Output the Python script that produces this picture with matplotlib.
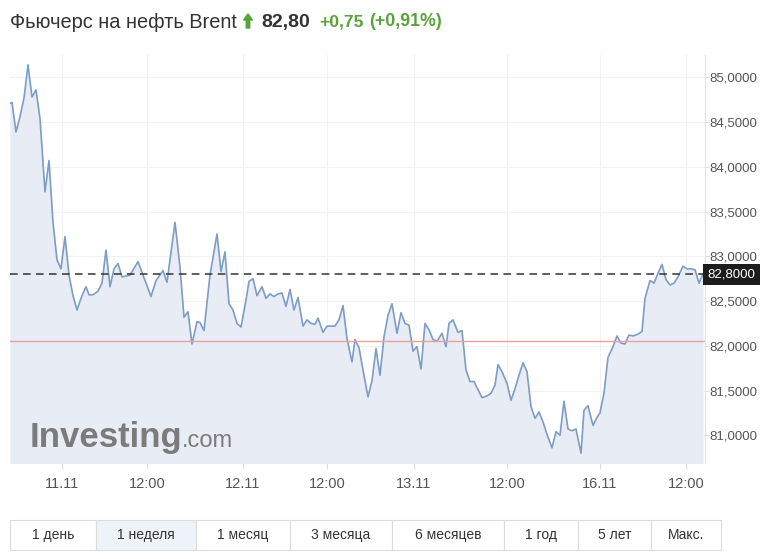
import matplotlib
matplotlib.use("Agg")
import matplotlib.pyplot as plt
from matplotlib.patches import Rectangle, FancyArrow

plt.rcParams['font.family'] = ['Liberation Sans', 'DejaVu Sans']

# Brent futures, one week (x - position along the session timeline)
t = [10, 12, 16, 20, 24, 28, 32, 36, 40, 45, 49, 53, 57, 61, 65, 69, 73, 77, 82, 86,
     89, 93, 98, 102, 106, 110, 114, 118, 122, 130, 138, 143, 151, 156, 163, 167, 175, 180, 184, 188,
     192, 197, 200, 204, 210, 217, 221, 225, 229, 233, 237, 241, 246, 249, 253, 257, 262, 266, 270, 274,
     278, 282, 286, 290, 294, 298, 303, 307, 311, 315, 318, 323, 327, 331, 335, 339, 343, 347, 352, 355,
     359, 363, 368, 372, 376, 380, 384, 388, 392, 397, 401, 405, 409, 413, 417, 421, 425, 429, 433, 437,
     442, 446, 449, 453, 458, 462, 466, 470, 474, 478, 482, 487, 491, 495, 498, 502, 507, 511, 515, 519,
     523, 527, 531, 535, 539, 543, 547, 552, 556, 560, 564, 568, 572, 576, 581, 584, 588, 593, 597, 600,
     604, 608, 613, 617, 621, 625, 629, 633, 638, 642, 645, 650, 654, 658, 662, 666, 670, 674, 678, 683,
     687, 691, 695, 699, 703]
price = [84.71, 84.72, 84.39, 84.56, 84.77, 85.14, 84.78, 84.86, 84.54, 83.72, 84.07, 83.38, 82.96, 82.86, 83.22, 82.79, 82.56, 82.40, 82.56, 82.66,
         82.57, 82.57, 82.61, 82.70, 83.07, 82.66, 82.86, 82.92, 82.77, 82.79, 82.94, 82.79, 82.55, 82.73, 82.84, 82.71, 83.38, 82.88, 82.32, 82.38,
         82.02, 82.27, 82.26, 82.17, 82.79, 83.25, 82.83, 83.05, 82.47, 82.40, 82.25, 82.21, 82.51, 82.72, 82.75, 82.56, 82.66, 82.53, 82.58, 82.55,
         82.58, 82.59, 82.44, 82.63, 82.40, 82.54, 82.22, 82.29, 82.25, 82.24, 82.31, 82.15, 82.22, 82.22, 82.22, 82.29, 82.45, 82.08, 81.82, 82.07,
         81.98, 81.73, 81.43, 81.61, 81.97, 81.67, 82.10, 82.34, 82.47, 82.14, 82.37, 82.25, 82.23, 81.94, 81.99, 81.74, 82.25, 82.18, 82.07, 82.05,
         82.14, 81.99, 82.25, 82.29, 82.15, 82.17, 81.73, 81.60, 81.60, 81.51, 81.42, 81.44, 81.47, 81.56, 81.79, 81.71, 81.58, 81.39, 81.52, 81.67,
         81.81, 81.71, 81.32, 81.19, 81.26, 81.15, 81.01, 80.86, 81.04, 81.00, 81.38, 81.07, 81.05, 81.07, 80.80, 81.28, 81.33, 81.11, 81.20, 81.25,
         81.47, 81.87, 81.99, 82.11, 82.03, 82.02, 82.12, 82.11, 82.13, 82.16, 82.53, 82.73, 82.70, 82.81, 82.91, 82.74, 82.68, 82.70, 82.77, 82.89,
         82.86, 82.86, 82.85, 82.70, 82.80]

last_price = 82.80
prev_close = 82.05
y_ticks = [81.0, 81.5, 82.0, 82.5, 83.0, 83.5, 84.0, 84.5, 85.0]
x_tick_pos = [62, 147, 243, 327, 414, 507, 600, 686]
x_tick_labels = ["11.11", "12:00", "12.11", "12:00", "13.11", "12:00", "16.11", "12:00"]
tabs = ["1 день", "1 неделя", "1 месяц", "3 месяца", "6 месяцев", "1 год", "5 лет", "Макс."]

fig = plt.figure(figsize=(7.72, 5.59), dpi=100)
W, H = 772, 559

# main chart area
ax = fig.add_axes([10 / W, 1 - 463 / H, 695 / W, 408 / H])
ax.fill_between(t, price, 80.0, color="#e8ecf5", lw=0)
ax.plot(t, price, color="#7d9cc6", lw=1.2)
ax.axhline(prev_close, color="#ef9f9f", lw=1)
ax.axhline(last_price, color="#333333", lw=1.1, ls=(0, (5, 3.5)))
ax.set_xlim(10, 705)
ax.set_ylim(80.69, 85.25)

ax.yaxis.tick_right()
ax.set_yticks(y_ticks)
ax.set_yticklabels([f"{v:.4f}".replace(".", ",") for v in y_ticks])
ax.set_xticks(x_tick_pos)
ax.set_xticklabels(x_tick_labels)
ax.tick_params(axis="both", colors="#dddddd", labelcolor="#555555", width=0.8)
ax.tick_params(axis="y", length=3, pad=0.5, labelsize=9.5)
ax.tick_params(axis="x", length=4, pad=6, labelsize=10.5)
ax.grid(True, color="#f2f2f2", lw=0.8)
ax.set_axisbelow(True)
for s in ["top", "left", "bottom"]:
    ax.spines[s].set_visible(False)
ax.spines["right"].set_color("#e3e3e3")

# current price box
ax.text(1.004, last_price, f"{last_price:.4f}".replace(".", ","), transform=ax.get_yaxis_transform(),
        ha="left", va="center", color="white", fontsize=9.5,
        bbox=dict(boxstyle="square,pad=0.33", fc="#1c1c1c", ec="none"))

# watermark
ax.text(0.028, 0.04, "Investing", transform=ax.transAxes, fontsize=25, fontweight="bold",
        color="#7b7b7b", ha="left", va="baseline")
ax.text(0.247, 0.04, ".com", transform=ax.transAxes, fontsize=17, color="#7b7b7b",
        ha="left", va="baseline")

# header
green = "#58a33a"
fig.text(10 / W, 1 - 22 / H, "Фьючерс на нефть Brent", fontsize=14.4, color="#333333", va="center")
fig.patches.append(FancyArrow(248 / W, 1 - 28 / H, 0, 8 / H, width=3.5 / W, head_width=9 / W,
                              head_length=6 / H, color=green, transform=fig.transFigure, figure=fig))
fig.text(261 / W, 1 - 22 / H, "82,80", fontsize=14, fontweight="bold", color="#333333", va="center")
fig.text(319 / W, 1 - 22 / H, "+0,75", fontsize=12.6, fontweight="bold", color=green, va="center")
fig.text(369 / W, 1 - 22 / H, "(+0,91%)", fontsize=12.8, fontweight="bold", color=green, va="center")

# period tabs
edges = [10, 96, 196, 290, 392, 504, 578, 651, 721]
tab_top, tab_bot = 520, 550
for i, name in enumerate(tabs):
    x0, x1 = edges[i], edges[i + 1]
    fc = "#eef3fa" if name == "1 неделя" else "white"
    fig.patches.append(Rectangle((x0 / W, 1 - tab_bot / H), (x1 - x0) / W, (tab_bot - tab_top) / H,
                                 fc=fc, ec="#dcdcdc", lw=0.8, transform=fig.transFigure, figure=fig))
    fig.text((x0 + x1) / 2 / W, 1 - (tab_top + tab_bot) / 2 / H, name, ha="center", va="center",
             fontsize=10, color="#333333")

fig.savefig("out.png", dpi=100)
